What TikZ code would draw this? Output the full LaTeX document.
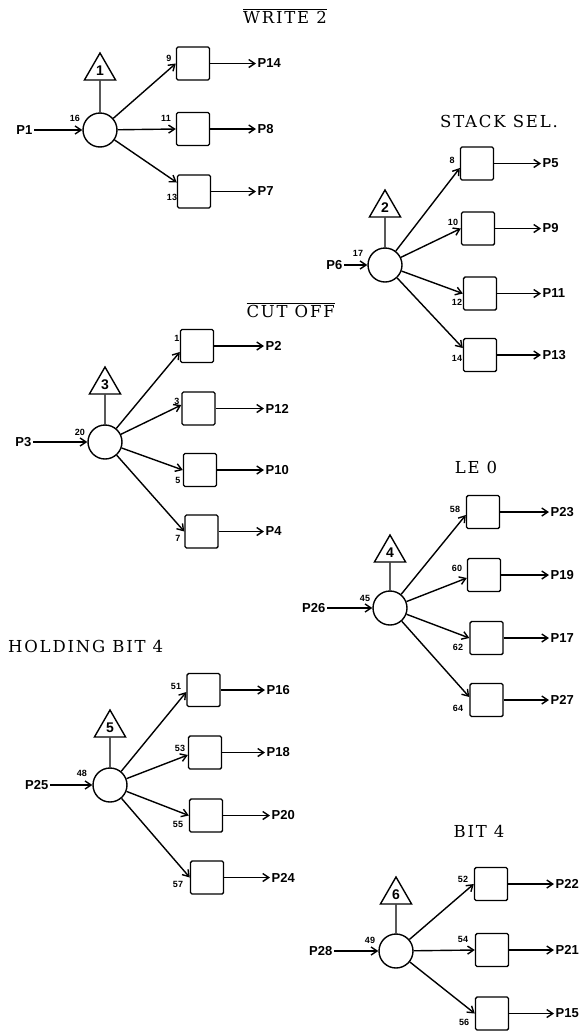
\documentclass[tikz,border=0pt]{standalone}
\usepackage{fontspec}
\setmainfont{DejaVu Serif}
\newfontfamily\lblfont{Liberation Sans}
\newfontfamily\ttlfont[LetterSpace=11]{DejaVu Serif}
\newcommand{\ttlsize}{\ttlfont\fontsize{16.5}{18}\selectfont}
\usetikzlibrary{arrows.meta,shapes.geometric}
\tikzset{
  arr/.style={-{Straight Barb[length=6pt,width=8pt,line width=1.4pt]}, line width=1.4pt},
  ln/.style={line width=1.4pt},
  hub/.style={draw, circle, minimum size=34pt, inner sep=0pt, line width=1.4pt},
  tri/.style={draw, regular polygon, regular polygon sides=3, minimum size=36pt, inner sep=0pt, line width=1.4pt, font=\lblfont\bfseries\fontsize{14}{14}\selectfont},
  gate/.style={draw, rectangle, rounded corners=1.5pt, minimum width=33pt, minimum height=33pt, inner sep=0pt, line width=1.4pt},
  pin/.style={font=\lblfont\bfseries\fontsize{9}{9}\selectfont, inner sep=0pt},
  sig/.style={font=\lblfont\bfseries\fontsize{13}{13}\selectfont, inner sep=1.5pt},
  ttl/.style={font=\ttlsize, inner sep=0pt}
}
\begin{document}
\begin{tikzpicture}[x=1pt,y=-1pt]
\useasboundingbox (0,0) rectangle (584,1031);

% ---------- Group 1: WRITE 2 ----------
\node[ttl, anchor=base east] (t1ttl) at (327,23) {$\overline{\hbox{\ttlsize WRITE 2}}$};
\node[hub] (c1) at (100,130) {};
\node[tri] (t1) at (100,71) {1};
\draw[ln] (t1.south) -- (c1.north);
\node[sig, anchor=east] (p1) at (34,130) {P1};
\draw[arr] (p1) -- (c1);
\node[pin] (n16) at (75,118) {16};
\node[gate] (b11) at (193,63.5) {};
\node[gate] (b12) at (193,129) {};
\node[gate] (b13) at (194,191.5) {};
\draw[arr] (c1) -- (b11.west);
\draw[arr] (c1) -- (b12.west);
\draw[arr] (c1) -- ([yshift=9pt]b13.west);
\node[pin] (n9) at (169,58) {9};
\node[pin] (n11) at (166,118) {11};
\node[pin] (n13) at (172,197) {13};
\node[sig, anchor=west] (p14) at (256,63.5) {P14};
\node[sig, anchor=west] (p8) at (256,129) {P8};
\node[sig, anchor=west] (p7) at (256,191.5) {P7};
\draw[arr] (b11) -- (p14);
\draw[arr] (b12) -- (p8);
\draw[arr] (b13) -- (p7);

% ---------- Group 2: STACK SEL. ----------
\node[ttl, anchor=base east] (t2ttl) at (558,127.5) {STACK SEL.};
\node[hub] (c2) at (385,265) {};
\node[tri] (t2) at (385,208) {2};
\draw[ln] (t2.south) -- (c2.north);
\node[sig, anchor=east] (p6) at (344,265) {P6};
\draw[arr] (p6) -- (c2);
\node[pin] (n17) at (358,253) {17};
\node[gate] (b21) at (477,163.5) {};
\node[gate] (b22) at (478,228.5) {};
\node[gate] (b23) at (480,293.5) {};
\node[gate] (b24) at (480,355) {};
\draw[arr] (c2) -- ([yshift=-4.5pt]b21.west);
\draw[arr] (c2) -- (b22.west);
\draw[arr] (c2) -- (b23.west);
\draw[arr] (c2) -- ([yshift=7pt]b24.west);
\node[pin] (n8) at (452,160) {8};
\node[pin] (n10) at (453,222) {10};
\node[pin] (n12) at (457,302) {12};
\node[pin] (n14) at (457,358) {14};
\node[sig, anchor=west] (p5) at (541,163.5) {P5};
\node[sig, anchor=west] (p9) at (541,228.5) {P9};
\node[sig, anchor=west] (p11) at (541,293.5) {P11};
\node[sig, anchor=west] (p13) at (541,355) {P13};
\draw[arr] (b21) -- (p5);
\draw[arr] (b22) -- (p9);
\draw[arr] (b23) -- (p11);
\draw[arr] (b24) -- (p13);

% ---------- Group 3: CUT OFF ----------
\node[ttl, anchor=base east] (t3ttl) at (335,317) {$\overline{\hbox{\ttlsize CUT OFF}}$};
\node[hub] (c3) at (105,442) {};
\node[tri] (t3) at (105,385) {3};
\draw[ln] (t3.south) -- (c3.north);
\node[sig, anchor=east] (p3) at (33,442) {P3};
\draw[arr] (p3) -- (c3);
\node[pin] (n20) at (80,432) {20};
\node[gate] (b31) at (197,346) {};
\node[gate] (b32) at (198.5,408.5) {};
\node[gate] (b33) at (200,470) {};
\node[gate] (b34) at (201.5,531.5) {};
\draw[arr] (c3) -- ([yshift=-6pt]b31.west);
\draw[arr] (c3) -- ([yshift=3.5pt]b32.west);
\draw[arr] (c3) -- (b33.west);
\draw[arr] (c3) -- (b34.west);
\node[pin] (n1) at (177,338) {1};
\node[pin] (n3) at (177,401) {3};
\node[pin] (n5) at (178,480) {5};
\node[pin] (n7) at (178,538) {7};
\node[sig, anchor=west] (p2) at (264,346) {P2};
\node[sig, anchor=west] (p12) at (264,408.5) {P12};
\node[sig, anchor=west] (p10) at (264,470) {P10};
\node[sig, anchor=west] (p4) at (264,531.5) {P4};
\draw[arr] (b31) -- (p2);
\draw[arr] (b32) -- (p12);
\draw[arr] (b33) -- (p10);
\draw[arr] (b34) -- (p4);

% ---------- Group 4: LE 0 ----------
\node[ttl, anchor=base] (t4ttl) at (476,473) {LE 0};
\node[hub] (c4) at (390,608) {};
\node[tri] (t4) at (390,553) {4};
\draw[ln] (t4.south) -- (c4.north);
\node[sig, anchor=east] (p26) at (327,608) {P26};
\draw[arr] (p26) -- (c4);
\node[pin] (n45) at (365,598) {45};
\node[gate] (b41) at (483,512) {};
\node[gate] (b42) at (484,575) {};
\node[gate] (b43) at (486.5,638) {};
\node[gate] (b44) at (486.5,700) {};
\draw[arr] (c4) -- ([yshift=-3pt]b41.west);
\draw[arr] (c4) -- ([yshift=-3pt]b42.west);
\draw[arr] (c4) -- (b43.west);
\draw[arr] (c4) -- ([yshift=3pt]b44.west);
\node[pin] (n58) at (455,509) {58};
\node[pin] (n60) at (457,568) {60};
\node[pin] (n62) at (458,647) {62};
\node[pin] (n64) at (458,708) {64};
\node[sig, anchor=west] (p23) at (549,512) {P23};
\node[sig, anchor=west] (p19) at (549,575) {P19};
\node[sig, anchor=west] (p17) at (549,638) {P17};
\node[sig, anchor=west] (p27) at (549,700) {P27};
\draw[arr] (b41) -- (p23);
\draw[arr] (b42) -- (p19);
\draw[arr] (b43) -- (p17);
\draw[arr] (b44) -- (p27);

% ---------- Group 5: HOLDING BIT 4 ----------
\node[ttl, anchor=base west] (t5ttl) at (8,652) {HOLDING BIT 4};
\node[hub] (c5) at (110,785) {};
\node[tri] (t5) at (110,728) {5};
\draw[ln] (t5.south) -- (c5.north);
\node[sig, anchor=east] (p25) at (50,785) {P25};
\draw[arr] (p25) -- (c5);
\node[pin] (n48) at (82,773) {48};
\node[gate] (b51) at (203.5,690) {};
\node[gate] (b52) at (205,752.5) {};
\node[gate] (b53) at (206,815.5) {};
\node[gate] (b54) at (207,877.5) {};
\draw[arr] (c5) -- ([yshift=-2pt]b51.west);
\draw[arr] (c5) -- ([yshift=-2.5pt]b52.west);
\draw[arr] (c5) -- (b53.west);
\draw[arr] (c5) -- (b54.west);
\node[pin] (n51) at (176,686) {51};
\node[pin] (n53) at (180,748) {53};
\node[pin] (n55) at (178,824) {55};
\node[pin] (n57) at (178,884) {57};
\node[sig, anchor=west] (p16) at (265,690) {P16};
\node[sig, anchor=west] (p18) at (265,752.5) {P18};
\node[sig, anchor=west] (p20) at (270,815.5) {P20};
\node[sig, anchor=west] (p24) at (270,877.5) {P24};
\draw[arr] (b51) -- (p16);
\draw[arr] (b52) -- (p18);
\draw[arr] (b53) -- (p20);
\draw[arr] (b54) -- (p24);

% ---------- Group 6: BIT 4 ----------
\node[ttl, anchor=base] (t6ttl) at (479,837) {BIT 4};
\node[hub] (c6) at (396,951) {};
\node[tri] (t6) at (396,895) {6};
\draw[ln] (t6.south) -- (c6.north);
\node[sig, anchor=east] (p28) at (334,951) {P28};
\draw[arr] (p28) -- (c6);
\node[pin] (n49) at (370,940) {49};
\node[gate] (b61) at (491,884) {};
\node[gate] (b62) at (492,950) {};
\node[gate] (b63) at (492,1013.5) {};
\draw[arr] (c6) -- (b61.west);
\draw[arr] (c6) -- (b62.west);
\draw[arr] (c6) -- (b63.west);
\node[pin] (n52) at (463,879) {52};
\node[pin] (n54) at (463,939) {54};
\node[pin] (n56) at (464,1022) {56};
\node[sig, anchor=west] (p22) at (554,884) {P22};
\node[sig, anchor=west] (p21) at (554,950) {P21};
\node[sig, anchor=west] (p15) at (554,1013.5) {P15};
\draw[arr] (b61) -- (p22);
\draw[arr] (b62) -- (p21);
\draw[arr] (b63) -- (p15);
\end{tikzpicture}
\end{document}
